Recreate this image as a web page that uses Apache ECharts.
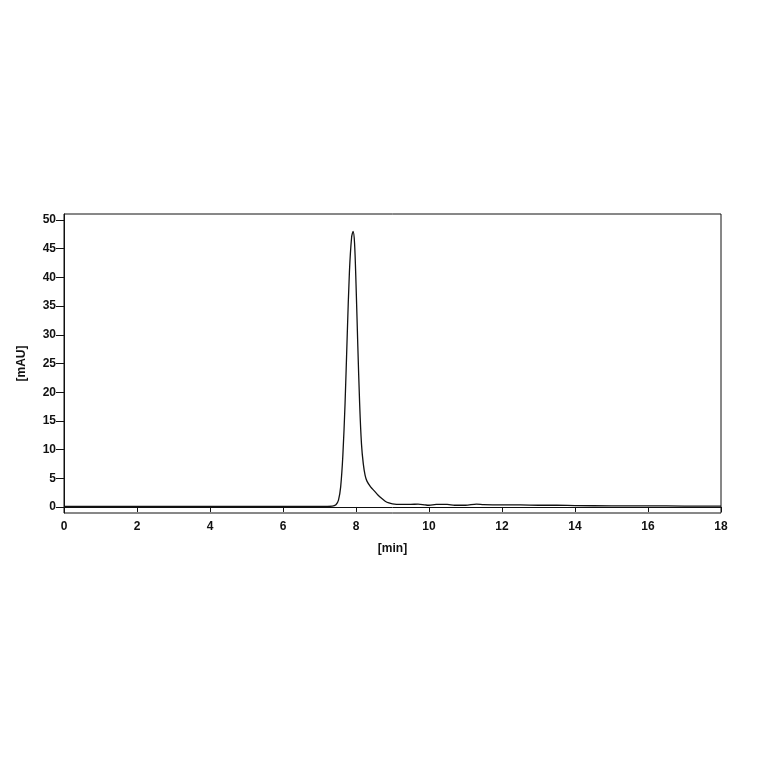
<html>
<head>
<meta charset="utf-8">
<script src="https://cdn.jsdelivr.net/npm/echarts@6/dist/echarts.min.js"></script>
</head>
<body>
<style>
html, body, #main { width: 100%; height: 100%; margin: 0; background: #fff; }
</style>
<div id="main"></div>
<script>
var times = [0, 2, 4, 6, 7.0, 7.35, 7.45, 7.52, 7.58, 7.64, 7.7, 7.76, 7.82, 7.88, 7.92, 7.96, 8.0, 8.05, 8.1, 8.15, 8.2, 8.25, 8.3, 8.4, 8.5, 8.6, 8.7, 8.8, 8.9, 9.0, 9.2, 9.5, 9.7, 9.9, 10.0, 10.2, 10.5, 10.7, 11.0, 11.3, 11.5, 12.0, 12.5, 13.0, 13.5, 14, 15, 16, 17, 18];
var mau =   [0.1, 0.1, 0.1, 0.1, 0.1, 0.15, 0.4, 1.2, 3.5, 9, 18, 30, 41, 47, 48, 46, 39, 28, 18, 11, 7.5, 5.5, 4.5, 3.5, 2.8, 2.1, 1.5, 1.0, 0.7, 0.55, 0.45, 0.45, 0.5, 0.35, 0.3, 0.45, 0.45, 0.3, 0.3, 0.5, 0.4, 0.35, 0.35, 0.3, 0.3, 0.25, 0.2, 0.2, 0.15, 0.15];
var yTicks = [0, 5, 10, 15, 20, 25, 30, 35, 40, 45, 50];
var xTicks = [0, 2, 4, 6, 8, 10, 12, 14, 16, 18];

var chart = echarts.init(document.getElementById('main'));
var font = { fontFamily: 'Liberation Sans', fontWeight: 'bold', fontSize: 12, color: '#111' };
chart.setOption({
    animation: false,
    grid: { left: 64, right: 43, top: 214, bottom: 251, show: true, borderColor: '#111', borderWidth: 1 },
    xAxis: {
        type: 'value', min: 0, max: 18,
        name: '[min]', nameLocation: 'middle', nameGap: 30, nameTextStyle: font,
        axisLine: { lineStyle: { color: '#111' } },
        axisTick: { length: 5, inside: false, customValues: xTicks, lineStyle: { color: '#111' } },
        axisLabel: Object.assign({ customValues: xTicks }, font),
        splitLine: { show: false }
    },
    yAxis: {
        type: 'value', min: -1.05, max: 51.05,
        name: '[mAU]', nameLocation: 'middle', nameGap: 36, nameTextStyle: font,
        axisLine: { show: true, lineStyle: { color: '#111' } },
        axisTick: { show: true, length: 8, customValues: yTicks, lineStyle: { color: '#111' } },
        axisLabel: Object.assign({ customValues: yTicks }, font),
        splitLine: { show: false }
    },
    series: [{
        type: 'line', smooth: 0.3, symbol: 'none',
        lineStyle: { color: '#111', width: 1.3 },
        data: times.map(function (t, i) { return [t, mau[i]]; })
    }]
});
window.onresize = chart.resize;
</script>
</body>
</html>
